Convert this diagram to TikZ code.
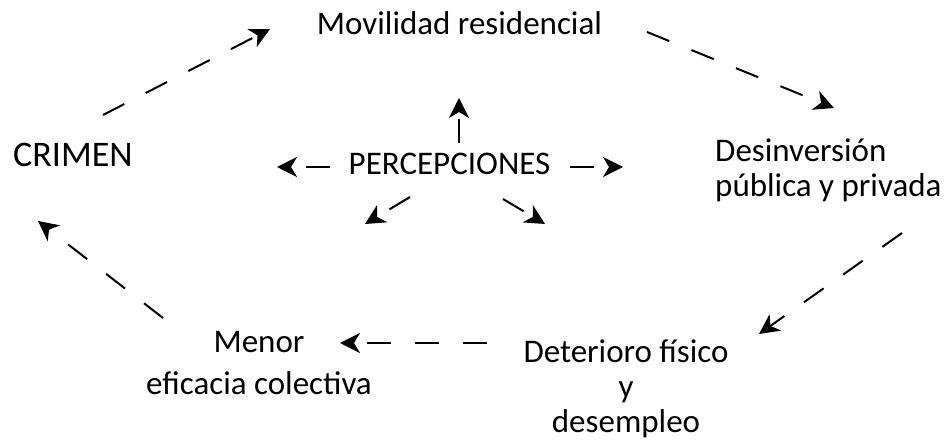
\documentclass[tikz,border=0pt]{standalone}
\usepackage{fontspec}
\setmainfont{Carlito}
\usetikzlibrary{arrows.meta}

\tikzset{
	txt/.style={inner sep=0pt, font=\fontsize{33}{35}\selectfont},
	dasharrow/.style={line width=2pt, dash pattern=on 24pt off 24pt,
		-{Stealth[length=20pt, width=20pt, inset=6pt]}}
}

\begin{document}
\begin{tikzpicture}[x=1pt, y=-1pt]
	
	\useasboundingbox (0,0) rectangle (948,446);
	
	\node[txt, anchor=base] (mov) at (459.5,35) {Movilidad residencial};
	\node[inner sep=0pt, font=\fontsize{36}{38}\selectfont, anchor=base west] (crimen) at (13,167) {CRIMEN};
	\node[inner sep=0pt, font=\fontsize{33}{35}\selectfont, anchor=base] (perc) at (449.5,175) {PERCEPCIONES};
	\node[txt, anchor=base west, align=left] (desinv) at (715,197) {Desinversión\\pública y privada};
	\node[txt, anchor=base, align=center] (menor) at (259,394) {Menor\\[7pt]eficacia colectiva};
	\node[txt, anchor=base, align=center] (deter) at (626,432) {Deterioro físico\\y\\desempleo};
	
	\coordinate (a1) at (103,115);
	\coordinate (a2) at (270,29);
	\coordinate (b1) at (647,32);
	\coordinate (b2) at (834,108);
	\coordinate (c1) at (902,233);
	\coordinate (c2) at (759,334);
	\coordinate (d1) at (487,343);
	\coordinate (d2) at (340,343);
	\coordinate (e1) at (163,318);
	\coordinate (e2) at (38,221);
	
	\draw[dasharrow] (a1) -- (a2);
	\draw[dasharrow] (b1) -- (b2);
	\draw[dasharrow] (c1) -- (c2);
	\draw[dasharrow] (d1) -- (d2);
	\draw[dasharrow] (e1) -- (e2);
	
	\coordinate (p1) at (459,143);
	\coordinate (p2) at (459,98);
	\coordinate (q1) at (330,167);
	\coordinate (q2) at (277,167);
	\coordinate (r1) at (570,167);
	\coordinate (r2) at (623,167);
	\coordinate (s1) at (410,197);
	\coordinate (s2) at (365,224);
	\coordinate (t1) at (503,199);
	\coordinate (t2) at (545,224);
	
	\draw[dasharrow] (p1) -- (p2);
	\draw[dasharrow] (q1) -- (q2);
	\draw[dasharrow] (r1) -- (r2);
	\draw[dasharrow] (s1) -- (s2);
	\draw[dasharrow] (t1) -- (t2);
	
\end{tikzpicture}
\end{document}
